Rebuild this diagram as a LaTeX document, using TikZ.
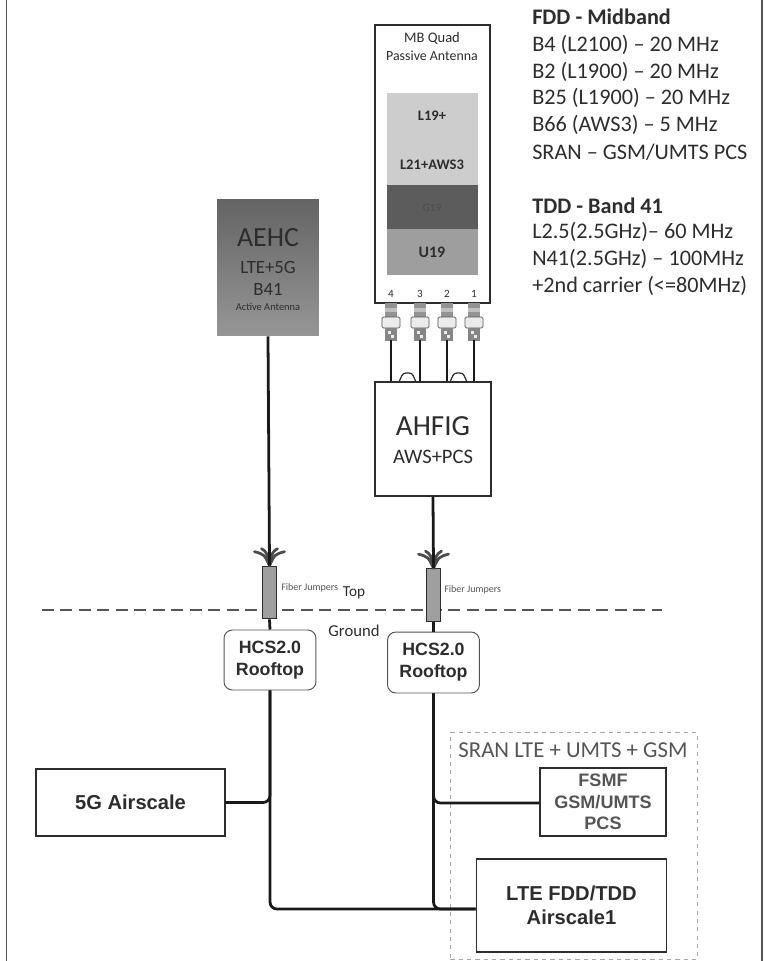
\documentclass[tikz,border=0pt]{standalone}
\usepackage{fontspec}
\setmainfont{Carlito}
\newfontfamily\boxfont{Liberation Sans}
\usetikzlibrary{arrows.meta, positioning, calc}
\definecolor{ink}{RGB}{45,45,45}
\definecolor{softink}{RGB}{85,85,85}
\definecolor{panelLight}{RGB}{205,205,205}
\definecolor{panelDark}{RGB}{92,92,92}
\definecolor{panelMid}{RGB}{158,158,158}
\definecolor{aehcTop}{RGB}{100,100,100}
\definecolor{aehcBot}{RGB}{150,150,150}
\newcommand{\fs}[1]{\fontsize{#1}{#1}\selectfont}
\tikzset{
  blk/.style={rectangle, draw=ink, fill=white, line width=1.1pt, inner sep=0pt,
    align=center, text=ink},
  blkS/.style={blk, font=\boxfont\bfseries\fs{14.5}},
  blkR/.style={blk, draw=softink, line width=0.7pt, rounded corners=6pt,
    font=\boxfont\bfseries\fs{12.8}},
  panel/.style={rectangle, inner sep=0pt, minimum width=65.5pt},
  lbl/.style={inner sep=0pt, text=ink},
  specH/.style={lbl, anchor=west, font=\bfseries\fs{16}},
  specL/.style={lbl, anchor=west, font=\fs{16}},
  cable/.style={draw=black!90, line width=2pt, rounded corners=5pt},
  sleeve/.style={rectangle, draw=ink, fill=gray!75, line width=0.7pt, inner sep=0pt,
    minimum width=9.4pt, minimum height=38pt},
  fanout/.pic={
    \foreach \dx/\dy in {-15/-14,-8/-17,8/-17,15/-14}
      \draw[gray!60!black, line width=2pt, line cap=round]
        (0,0) .. controls (\dx*.35,\dy*.8) .. (\dx,\dy);
  },
  jack/.pic={
    \fill[gray!85] (-6,0) rectangle (6,14);
    \fill[gray!50] (-6,5) rectangle (6,9);
    \draw[softink, fill=white!92!black, line width=0.6pt, rounded corners=1pt] (-9,14) rectangle (9,25);
    \fill[gray!95] (-6,25) rectangle (6,38);
    \fill[white!85!gray] (-3,28) rectangle (0,31);
    \fill[white!85!gray] (0,32) rectangle (3,35);
  },
}
\begin{document}
\begin{tikzpicture}[x=0.72pt, y=-0.72pt]
  \useasboundingbox (0,0) rectangle (765,961);

  % Side rules of the frame
  \draw[softink, line width=1.2pt] (6.5,0) -- (6.5,961);
  \draw[softink, line width=1.2pt] (762,0) -- (762,961);

  % Antenna body and its panels
  \node[blk, minimum width=82.8pt, minimum height=200pt] (antenna) at (432.5,164) {};
  \node[lbl, font=\fs{10.5}] (mbquad) at (432,38) {MB Quad};
  \node[lbl, font=\fs{10}] (passive) at (432,56) {Passive Antenna};
  \node[panel, fill=panelLight, minimum height=66.2pt] (panelA) at (432.5,139) {};
  \node[panel, fill=panelDark, minimum height=31.7pt] (panelB) at (432.5,207) {};
  \node[panel, fill=panelMid, minimum height=33.1pt] (panelC) at (432.5,252) {};
  \node[lbl, font=\bfseries\fs{10.5}] (l19) at (432,116) {L19+};
  \node[lbl, font=\bfseries\fs{10.5}] (l21) at (432,165) {L21+AWS3};
  \node[lbl, font=\fs{8}, text=black!70] (g19) at (432,208) {G19};
  \node[lbl, font=\bfseries\fs{11.5}] (u19) at (432,252) {U19};

  % AHFIG box, jacks and jumpers
  \node[blk, minimum width=83.5pt, minimum height=82pt] (ahfig) at (433,439) {};
  \node[lbl, font=\fs{21}] (ahfigT) at (433,426) {AHFIG};
  \node[lbl, font=\fs{14.8}] (ahfigS) at (433,457) {AWS+PCS};
  \foreach \n/\xp in {4/391,3/420,2/447,1/474} {
    \node[lbl, font=\fs{8}] (port\n) at (\xp,294) {\n};
    \pic at (\xp,303) {jack};
    \coordinate (jack\n) at (\xp,340);
    \draw[cable] (jack\n) -- (jack\n |- ahfig.north);
  }
  \draw[ink, line width=0.9pt, rounded corners=2pt] (399,382) -- (403,373) -- (412,373) -- (416,382);
  \draw[ink, line width=0.9pt, rounded corners=2pt] (450,382) -- (454,373) -- (463,373) -- (467,382);

  % AEHC active antenna
  \node[rectangle, inner sep=0pt, minimum width=73.4pt, minimum height=98.6pt,
        top color=aehcTop, bottom color=aehcBot] (aehc) at (268,267.5) {};
  \node[lbl, font=\fs{20}] (aehcT) at (268,238) {AEHC};
  \node[lbl, font=\fs{13.5}] (aehcA) at (268,267) {LTE+5G};
  \node[lbl, font=\fs{13.5}] (aehcB) at (268,289) {B41};
  \node[lbl, font=\fs{7.5}] (aehcC) at (268,307) {Active Antenna};

  % Top / ground boundary
  \coordinate (tierL) at (42,610);
  \coordinate (tierR) at (662,610);
  \draw[softink, line width=1.4pt, dash pattern=on 8.6pt off 4.7pt] (tierL) -- (tierR);
  \node[lbl, font=\fs{11}] (topL) at (354,593) {Top};
  \node[lbl, font=\fs{12}] (groundL) at (354,631) {Ground};

  % Rooftop units
  \node[blkR, minimum width=66.2pt, minimum height=43.2pt] (hcsL) at (270,660) {HCS2.0\\[3pt]Rooftop};
  \node[blkR, minimum width=66.2pt, minimum height=43.9pt] (hcsR) at (433.5,662.5) {HCS2.0\\[3pt]Rooftop};

  % Fibre sleeves
  \node[sleeve] (sleeveL) at (269.5,592.5) {};
  \node[sleeve] (sleeveR) at (433.5,595) {};
  \pic at (sleeveL.north) {fanout};
  \pic at (sleeveR.north) {fanout};
  \node[lbl, font=\fs{7.2}, anchor=west, text=softink] (fibL) at (281,588) {Fiber Jumpers};
  \node[lbl, font=\fs{7.2}, anchor=west, text=softink] (fibR) at (444,590) {Fiber Jumpers};

  % SRAN group
  \node[rectangle, draw=gray!70, line width=0.7pt, dashed, inner sep=0pt,
        minimum width=178pt, minimum height=163pt] (sran) at (574,846) {};
  \node[lbl, font=\fs{16.4}, text=softink] (sranT) at (573,750) {SRAN LTE + UMTS + GSM};

  % Baseband boxes
  \node[blkS, minimum width=136pt, minimum height=48.2pt] (g5) at (130.5,802.5) {5G Airscale};
  \node[blk, minimum width=90.7pt, minimum height=49pt, text=softink,
        font=\boxfont\bfseries\fs{13}] (fsmf) at (603,802)
        {FSMF\\[2.5pt]GSM/UMTS\\[2.5pt]PCS};
  \node[blkS, minimum width=137pt, minimum height=67pt] (lte) at (571.5,905.5)
        {LTE FDD/TDD\\[3pt]Airscale1};
  \coordinate (lteIn) at (lte.west |- 0,909);
  \coordinate (fsmfIn) at (fsmf.west |- 0,803);

  % Cabling
  \draw[cable] (aehc.south) -- (sleeveL.north);
  \draw[cable] (ahfig.south) -- (sleeveR.north);
  \draw[cable] (sleeveL.south) -- (hcsL.north);
  \draw[cable] (sleeveR.south) -- (hcsR.north);
  \draw[cable] (hcsL.south) |- (lteIn);
  \draw[cable] (hcsR.south) |- (lteIn);
  \draw[cable] (g5.east) -| (hcsL.south);
  \draw[cable] (fsmfIn) -| (hcsR.south);

  % Band list
  \node[specH] (fdd) at (532,17) {FDD - Midband};
  \node[specL] (b4) at (532,45) {B4 (L2100) – 20 MHz};
  \node[specL] (b2) at (532,72) {B2 (L1900) – 20 MHz};
  \node[specL] (b25) at (532,98) {B25 (L1900) – 20 MHz};
  \node[specL] (b66) at (532,125) {B66 (AWS3) – 5 MHz};
  \node[specL] (sr) at (532,152) {SRAN – GSM/UMTS PCS};
  \node[specH] (tdd) at (532,206) {TDD - Band 41};
  \node[specL] (l25) at (532,232) {L2.5(2.5GHz)– 60 MHz};
  \node[specL] (n41) at (532,259) {N41(2.5GHz) – 100MHz};
  \node[specL] (car) at (532,286) {+2nd carrier (<=80MHz)};
\end{tikzpicture}
\end{document}
